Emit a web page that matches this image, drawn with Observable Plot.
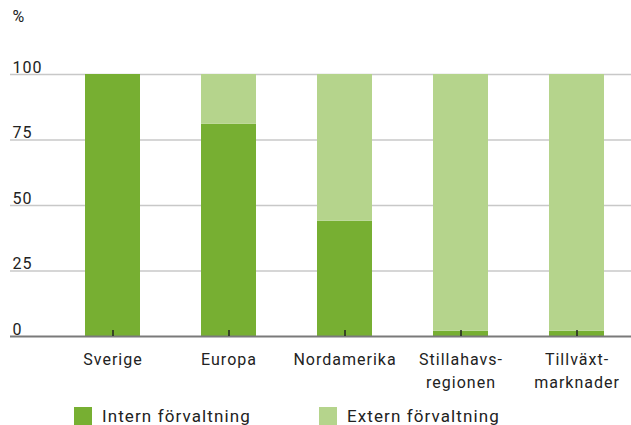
<!DOCTYPE html>
<html>
<head>
<meta charset="utf-8">
<script src="https://cdn.jsdelivr.net/npm/d3@7"></script>
<script src="https://cdn.jsdelivr.net/npm/@observablehq/plot@0.6"></script>
<style>
  html, body { margin: 0; padding: 0; background: #fff; }
  #wrap { position: relative; width: 631px; height: 425px; overflow: hidden; font-family: Roboto, "Noto Sans", sans-serif; color: #222; }
  #title { position: absolute; top: -17px; left: 150px; font-size: 18px; line-height: 21px; font-weight: bold; letter-spacing: 0.5px; white-space: nowrap; color: #111; }
  #chart { position: absolute; top: 0; left: 0; }
  #legend { position: absolute; top: 407px; left: 0; width: 631px; height: 18px; }
  .item { position: absolute; top: 0; display: flex; align-items: center; font-size: 17px; letter-spacing: 1.1px; line-height: 18px; white-space: nowrap; }
  .sw { width: 18px; height: 18px; margin-right: 10px; flex: none; }
</style>
</head>
<body>
<div id="wrap">
  <div id="title">Förvaltning per region</div>
  <div id="chart"></div>
  <div id="legend"></div>
</div>
<script>
// --- data ---
const regions = ["Sverige", "Europa", "Nordamerika", "Stillahavs-\nregionen", "Tillväxt-\nmarknader"];
const internValues = [100, 81, 44, 2, 2];
const externValues = [0, 19, 56, 98, 98];
const seriesNames = ["Intern förvaltning", "Extern förvaltning"];
const seriesColors = ["#77af32", "#b5d48c"];
const yTicks = [0, 25, 50, 75, 100];
const yUnit = "%";

// table for the library
const table = [];
regions.forEach((r, i) => {
  table.push({region: r, series: seriesNames[0], value: internValues[i]});
  table.push({region: r, series: seriesNames[1], value: externValues[i]});
});

const chart = Plot.plot({
  width: 631,
  height: 395,
  marginLeft: 10,
  marginRight: 0,
  marginTop: 10,
  marginBottom: 59,
  style: {fontFamily: "Roboto, 'Noto Sans', sans-serif", color: "#222", letterSpacing: "1px", background: "#fff"},
  x: {domain: regions, range: [52, 636], paddingInner: 0.53, paddingOuter: 0.265, label: null},
  y: {domain: [0, 100], range: [336, 74], label: null},
  color: {domain: seriesNames, range: seriesColors},
  marks: [
    Plot.ruleY(yTicks.filter(d => d > 0), {y: d => d, stroke: "#c8c8c8", strokeWidth: 1.5}),
    Plot.barY(table, {x: "region", y: "value", fill: "series"}),
    Plot.ruleY([0], {stroke: "#7a7a7a", strokeWidth: 2}),
    Plot.axisX({tickSize: 6, dy: -6, stroke: "#222", strokeWidth: 1.5, tickFormat: () => "", label: null}),
    Plot.axisX({tickSize: 0, tickPadding: 13, fontSize: 16, lineHeight: 1.4, fill: "#222", label: null}),
    Plot.axisY(yTicks, {tickSize: 0, tickPadding: 0, textAnchor: "start", dx: 2, lineAnchor: "bottom", dy: -2, fontSize: 16, fill: "#222", label: null}),
    Plot.text([yUnit], {frameAnchor: "top-left", dx: 2, dy: 0, lineAnchor: "top", fontSize: 16, fill: "#222"})
  ]
});
document.getElementById("chart").appendChild(chart);

// legend
const legend = document.getElementById("legend");
const legendX = [74, 319];
seriesNames.forEach((name, i) => {
  const item = document.createElement("div");
  item.className = "item";
  item.style.left = legendX[i] + "px";
  const sw = document.createElement("span");
  sw.className = "sw";
  sw.style.background = seriesColors[i];
  const label = document.createElement("span");
  label.textContent = name;
  item.appendChild(sw);
  item.appendChild(label);
  legend.appendChild(item);
});
</script>
</body>
</html>
